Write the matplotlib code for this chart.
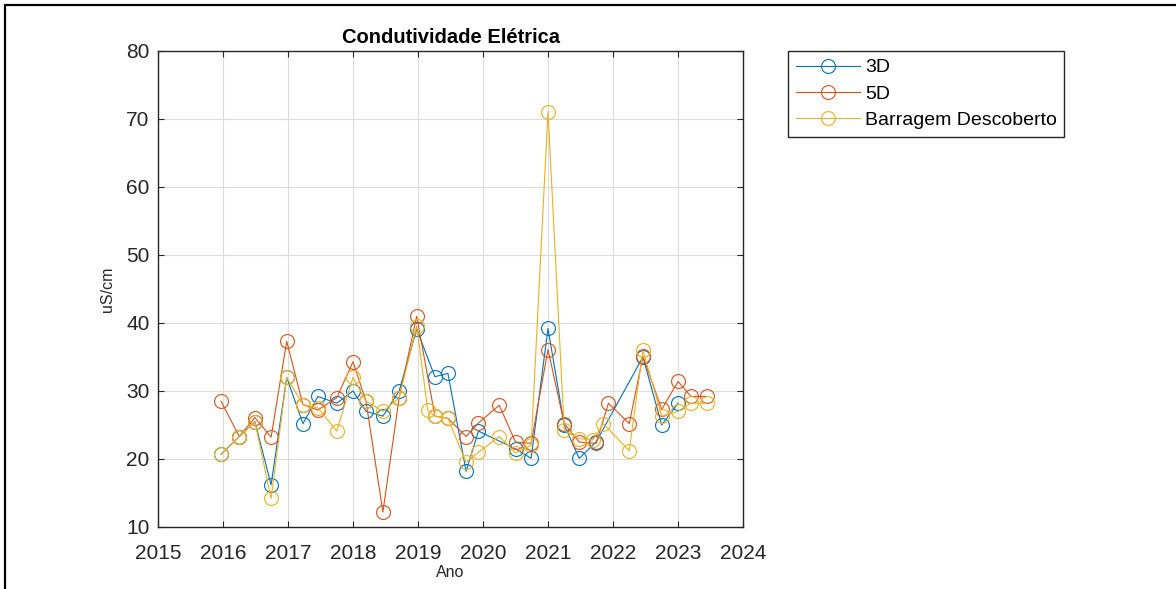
import matplotlib.pyplot as plt
from matplotlib.patches import Rectangle

plt.rcParams['font.family'] = ['Liberation Sans', 'DejaVu Sans']

# Data (decimal years, uS/cm)
datas_3d = [2015.97, 2016.25, 2016.49, 2016.74, 2016.98, 2017.23, 2017.46, 2017.75,
            2018.0, 2018.2, 2018.46, 2018.71, 2018.98, 2019.26, 2019.46, 2019.74,
            2019.93, 2020.5, 2020.74, 2021.0, 2021.25, 2021.48, 2021.74, 2022.46,
            2022.75, 2023.0]
cond_3d = [20.7, 23.3, 25.5, 16.2, 32.0, 25.2, 29.2, 28.2,
           30.0, 27.0, 26.3, 30.0, 39.1, 32.1, 32.6, 18.2,
           24.1, 21.5, 20.1, 39.2, 25.0, 20.1, 22.5, 35.0,
           25.0, 28.2]

datas_5d = [2015.97, 2016.25, 2016.49, 2016.74, 2016.98, 2017.23, 2017.46, 2017.75,
            2018.0, 2018.2, 2018.46, 2018.71, 2018.98, 2019.26, 2019.46, 2019.74,
            2019.93, 2020.25, 2020.5, 2020.74, 2021.0, 2021.25, 2021.48, 2021.74,
            2021.93, 2022.25, 2022.46, 2022.75, 2023.0, 2023.2, 2023.44]
cond_5d = [28.5, 23.3, 26.1, 23.2, 37.3, 28.0, 27.2, 29.0,
           34.3, 28.5, 12.2, 29.0, 41.0, 26.3, 26.0, 23.3,
           25.3, 27.9, 22.5, 22.3, 36.1, 25.2, 22.5, 22.3,
           28.2, 25.2, 35.1, 27.3, 31.4, 29.2, 29.2]

datas_bd = [2015.97, 2016.25, 2016.49, 2016.74, 2016.98, 2017.23, 2017.46, 2017.75,
            2018.0, 2018.2, 2018.46, 2018.71, 2018.98, 2019.15, 2019.26, 2019.46,
            2019.74, 2019.93, 2020.25, 2020.5, 2020.74, 2021.0, 2021.25, 2021.48,
            2021.69, 2021.85, 2022.25, 2022.46, 2022.75, 2023.0, 2023.2, 2023.44]
cond_bd = [20.7, 23.3, 25.5, 14.2, 32.0, 28.0, 27.5, 24.1,
           32.0, 28.5, 27.0, 29.0, 39.6, 27.2, 26.3, 26.0,
           19.5, 21.0, 23.3, 20.9, 22.0, 71.1, 24.2, 23.0,
           22.8, 25.2, 21.2, 36.0, 26.3, 27.0, 28.2, 28.2]

nomes = ['3D', '5D', 'Barragem Descoberto']
cores = ['#0072BD', '#D95319', '#EDB120']

fig = plt.figure(figsize=(11.76, 5.89), dpi=100)
ax = fig.add_axes([158/1176, 1 - 527/589, 585/1176, 476/589])

for x, y, nome, cor in [(datas_3d, cond_3d, nomes[0], cores[0]),
                        (datas_5d, cond_5d, nomes[1], cores[1]),
                        (datas_bd, cond_bd, nomes[2], cores[2])]:
    ax.plot(x, y, '-o', color=cor, lw=0.8, markersize=10, markerfacecolor='none',
            markeredgewidth=0.8, label=nome)

ax.set_xlim(2015, 2024)
ax.set_ylim(10, 80)
ax.set_xticks(range(2015, 2025))
ax.set_yticks(range(10, 81, 10))
ax.grid(True, color='#dcdcdc', lw=0.8)
ax.set_axisbelow(True)
ax.tick_params(direction='in', length=4, top=True, right=True, labelsize=15,
               colors='#262626')
ax.tick_params(axis='x', pad=12)
ax.tick_params(axis='y', pad=6)
for s in ax.spines.values():
    s.set_color('#262626')
    s.set_linewidth(1.0)

ax.set_title('Condutividade Elétrica', fontsize=14.5, fontweight='bold', pad=6)
ax.set_xlabel('Ano', fontsize=11.5, color='#262626', labelpad=2)
ax.set_ylabel('uS/cm', fontsize=11.5, color='#262626', labelpad=8)

leg = ax.legend(loc='upper left', bbox_to_anchor=(788/1176, 1 - 51/589),
                bbox_transform=fig.transFigure, borderaxespad=0, fancybox=False,
                edgecolor='#262626', framealpha=1, fontsize=14, handlelength=3.3,
                handletextpad=0.25, labelspacing=0.45, borderpad=0.4)
leg.get_frame().set_linewidth(1.0)

# moldura externa
fig.patches.append(Rectangle((5/1176, -0.1), 1.2, 1.1 - 5/589, transform=fig.transFigure,
                             fill=False, edgecolor='black', lw=1.6))

fig.savefig('out.png', dpi=100)
